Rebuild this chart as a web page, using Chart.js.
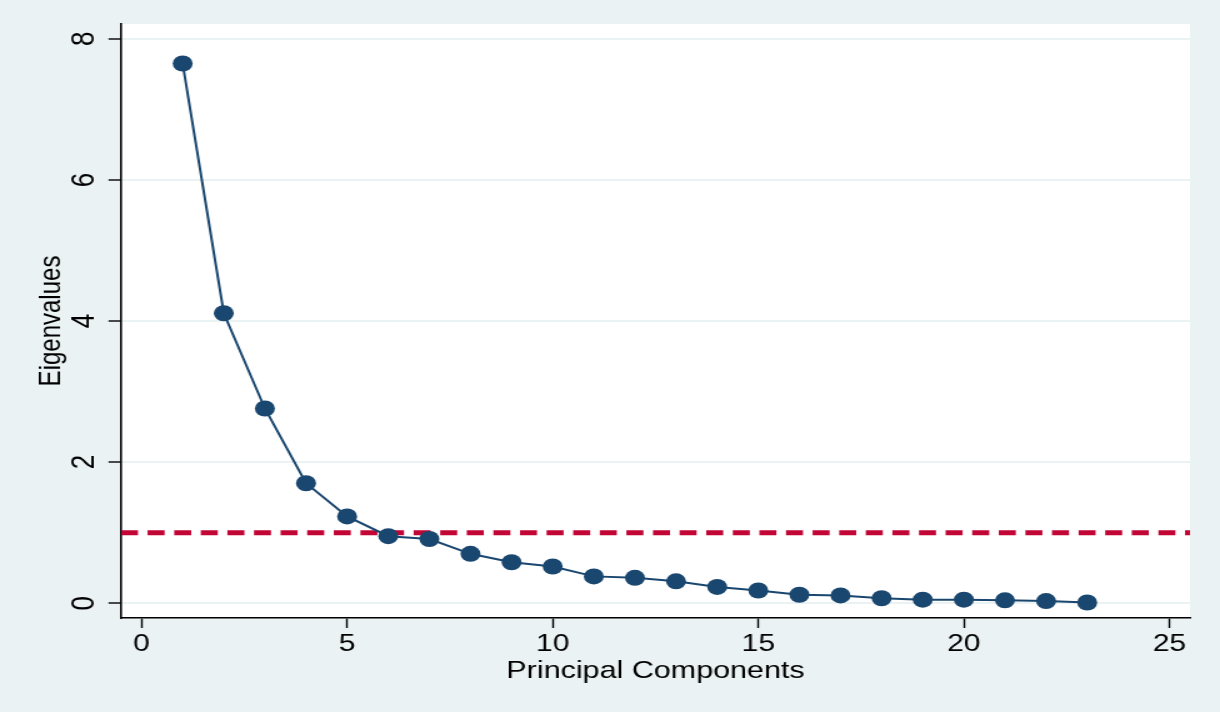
<!DOCTYPE html>
<html>
<head>
<meta charset="utf-8">
<script src="https://cdn.jsdelivr.net/npm/chart.js@4/dist/chart.umd.min.js"></script>
<style>
  html, body { margin: 0; padding: 0; background: #EAF2F3; width: 1220px; height: 712px; overflow: hidden; }
  #wrap { position: absolute; left: 0; top: 0; transform: scaleX(1.25); transform-origin: 0 0; }
  canvas { display: block; }
</style>
</head>
<body>
<div id="wrap"><canvas id="c" width="976" height="712"></canvas></div>
<script>
// ---- data ----
const components = [1,2,3,4,5,6,7,8,9,10,11,12,13,14,15,16,17,18,19,20,21,22,23];
const eigenvalues = [7.65,4.11,2.76,1.70,1.23,0.95,0.91,0.70,0.58,0.52,0.38,0.36,0.31,0.23,0.18,0.12,0.11,0.07,0.05,0.05,0.04,0.03,0.01];
const thresholdX = [-0.5, 25.5];
const thresholdY = [1, 1];
const xTicks = [0,5,10,15,20,25];
const yTicks = [0,2,4,6,8];

const NAVY = '#1A476F';
const RED = '#C10534';
const BG = '#EAF2F3';
const FONT = '"Liberation Sans", Arial, Helvetica, sans-serif';

const bgPlugin = {
  id: 'bg',
  beforeDraw(chart) {
    const {ctx, chartArea: a} = chart;
    ctx.save();
    ctx.fillStyle = BG;
    ctx.fillRect(0, 0, chart.width, chart.height);
    ctx.fillStyle = '#FFFFFF';
    ctx.fillRect(a.left, a.top, a.right - a.left, a.bottom - a.top);
    ctx.restore();
  }
};

function zeroPad(scale) {
  scale.paddingTop = 0; scale.paddingBottom = 0;
  scale.paddingLeft = 0; scale.paddingRight = 0;
}

new Chart(document.getElementById('c'), {
  type: 'line',
  data: {
    datasets: [
      {
        data: components.map((c, i) => ({x: c, y: eigenvalues[i]})),
        borderColor: NAVY,
        borderWidth: 2,
        backgroundColor: NAVY,
        pointBackgroundColor: NAVY,
        pointBorderColor: NAVY,
        pointBorderWidth: 0,
        pointRadius: 8,
        pointHoverRadius: 8,
        tension: 0,
        fill: false
      },
      {
        data: thresholdX.map((x, i) => ({x: x, y: thresholdY[i]})),
        borderColor: RED,
        borderWidth: 5,
        borderDash: [13.6, 7.68],
        borderCapStyle: 'butt',
        pointRadius: 0,
        pointHoverRadius: 0,
        tension: 0,
        fill: false
      }
    ]
  },
  plugins: [bgPlugin],
  options: {
    responsive: false,
    devicePixelRatio: 1,
    animation: false,
    events: [],
    layout: { padding: { left: 0, top: 24, right: 24, bottom: 0 } },
    plugins: { legend: { display: false }, tooltip: { enabled: false } },
    scales: {
      x: {
        type: 'linear',
        min: -0.5,
        max: 25.5,
        afterBuildTicks(scale) { scale.ticks = xTicks.map(v => ({value: v})); },
        afterFit(scale) { scale.height = 94; zeroPad(scale); },
        border: { display: true, color: '#000', width: 1.6 },
        grid: { drawOnChartArea: false, drawTicks: true, tickLength: 10, tickColor: '#000', tickWidth: 1.4 },
        ticks: { color: '#000', font: { family: FONT, size: 24 }, padding: 2, maxRotation: 0, minRotation: 0 },
        title: { display: true, text: 'Principal Components', color: '#000', font: { family: FONT, size: 24.4 }, padding: { top: 0, bottom: 26 } }
      },
      y: {
        type: 'linear',
        min: -0.21,
        max: 8.21,
        afterBuildTicks(scale) { scale.ticks = yTicks.map(v => ({value: v})); },
        afterFit(scale) { scale.width = 96.8; zeroPad(scale); },
        border: { display: true, color: '#000', width: 1.6 },
        grid: { drawOnChartArea: true, color: BG, lineWidth: 2, drawTicks: true, tickLength: 10, tickColor: '#000', tickWidth: 1.4 },
        ticks: { color: '#000', font: { family: FONT, size: 26 }, padding: 11.5, minRotation: 90, maxRotation: 90, crossAlign: 'center' },
        title: { display: true, text: 'Eigenvalues', color: '#000', font: { family: FONT, size: 24 }, padding: { top: 27, bottom: 0 } }
      }
    }
  }
});
</script>
</body>
</html>
